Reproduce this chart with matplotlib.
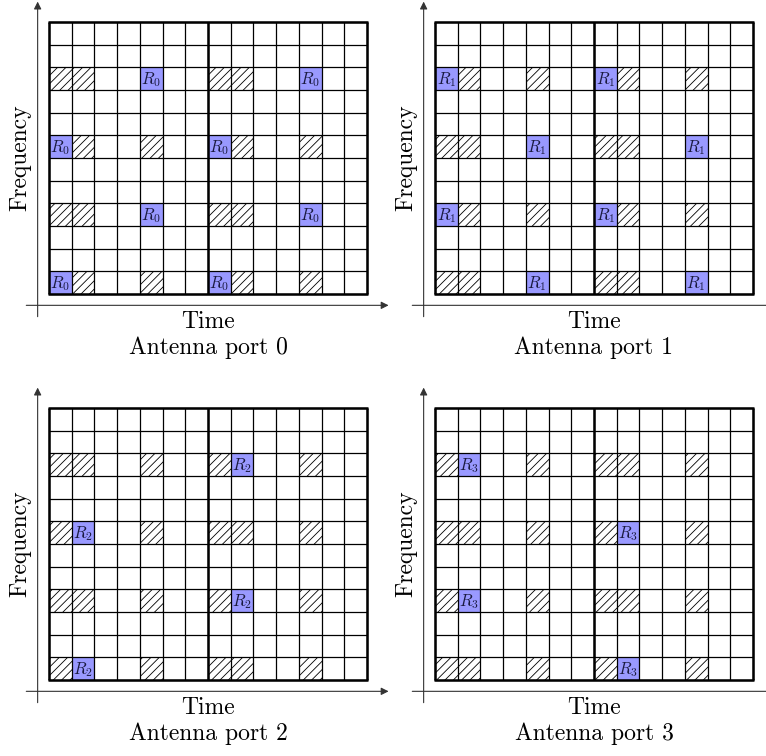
import matplotlib
matplotlib.use("Agg")
import matplotlib.pyplot as plt
from matplotlib.patches import Rectangle

plt.rcParams["mathtext.fontset"] = "cm"
plt.rcParams["hatch.linewidth"] = 0.6

# resource grid: 14 OFDM symbols (time) x 12 subcarriers (frequency)
n_symbols = 14
n_subcarriers = 12
slot_len = 7

ports = [0, 1, 2, 3]
# (symbol, subcarrier) of each port's reference signal, subcarrier counted from the bottom
port0_cells = [(0, 0), (0, 6), (4, 3), (4, 9), (7, 0), (7, 6), (11, 3), (11, 9)]
port1_cells = [(0, 3), (0, 9), (4, 0), (4, 6), (7, 3), (7, 9), (11, 0), (11, 6)]
port2_cells = [(1, 0), (1, 6), (8, 3), (8, 9)]
port3_cells = [(1, 3), (1, 9), (8, 0), (8, 6)]
port_cells = [port0_cells, port1_cells, port2_cells, port3_cells]

ref_color = "#9999ff"
serif = "cmr10"

fig = plt.figure(figsize=(7.66, 7.56), dpi=100)

W, H = 766, 756
# grid boxes in pixels: left, top
boxes = [(49, 22), (435, 22), (49, 408), (435, 408)]
box_w, box_h = 318, 272


def draw_port(ax, p):
    own = port_cells[p]
    others = set()
    for q in ports:
        if q != p:
            others.update(port_cells[q])
    others -= set(own)

    for (s, k) in sorted(others):
        ax.add_patch(Rectangle((s, k), 1, 1, facecolor="white", edgecolor="black",
                               hatch="////", linewidth=0))
    for (s, k) in own:
        ax.add_patch(Rectangle((s, k), 1, 1, facecolor=ref_color, linewidth=0))
        ax.text(s + 0.5, k + 0.47, r"$R_%d$" % p, ha="center", va="center",
                fontsize=12, color="#1a1a40")

    # thin grid
    ax.vlines(range(n_symbols + 1), 0, n_subcarriers, color="black", lw=0.9,
              clip_on=False)
    ax.hlines(range(n_subcarriers + 1), 0, n_symbols, color="black", lw=0.9,
              clip_on=False)
    # slot boundary + frame
    ax.vlines([0, slot_len, n_symbols], 0, n_subcarriers, color="black", lw=1.8,
              clip_on=False)
    ax.hlines([0, n_subcarriers], -0.04, n_symbols + 0.04, color="black", lw=1.8,
              clip_on=False)

    # axes arrows
    ax.annotate("", xy=(-0.5, 12.9), xytext=(-0.5, -1.0),
                arrowprops=dict(arrowstyle="-|>", color="#333333", lw=0.8,
                                mutation_scale=11, shrinkA=0, shrinkB=0),
                annotation_clip=False)
    ax.annotate("", xy=(14.95, -0.5), xytext=(-1.0, -0.5),
                arrowprops=dict(arrowstyle="-|>", color="#333333", lw=0.8,
                                mutation_scale=11, shrinkA=0, shrinkB=0),
                annotation_clip=False)

    ax.text(7, -1.25, "Time", ha="center", va="center", fontsize=17, family=serif)
    ax.text(7, -2.38, "Antenna port %d" % p, ha="center", va="center",
            fontsize=17, family=serif)
    ax.text(-1.25, 6, "Frequency", ha="center", va="center", rotation=90,
            fontsize=17, family=serif)


for p, (left, top) in zip(ports, boxes):
    ax = fig.add_axes([left / W, 1 - (top + box_h) / H, box_w / W, box_h / H])
    ax.set_xlim(0, n_symbols)
    ax.set_ylim(0, n_subcarriers)
    ax.axis("off")
    draw_port(ax, p)

fig.savefig("out.png", dpi=100)
plt.close()
